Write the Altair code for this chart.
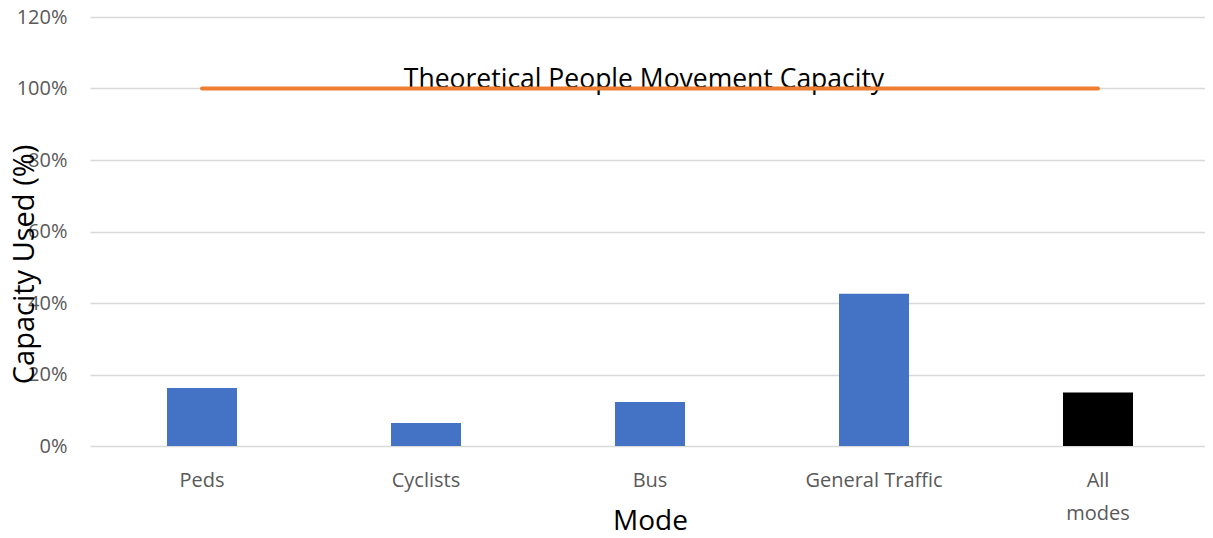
import altair as alt
import pandas as pd

modes = ["Peds", "Cyclists", "Bus", "General Traffic", "All modes"]
capacity_used = [16.2, 6.4, 12.3, 42.6, 15.0]
bar_colors = ["#4472C4", "#4472C4", "#4472C4", "#4472C4", "#000000"]
theoretical = [100, 100, 100, 100, 100]
y_ticks = [0, 20, 40, 60, 80, 100, 120]
annotation = "Theoretical People Movement Capacity"

bars_df = pd.DataFrame({"Mode": modes, "Used": capacity_used, "Color": bar_colors})
line_df = pd.DataFrame({"Mode": modes, "Cap": theoretical})
text_df = pd.DataFrame({"Mode": [modes[2]], "Cap": [theoretical[2]], "Label": [annotation]})

x_scale = alt.Scale(domain=modes, paddingInner=0, paddingOuter=0, range=[0, 1120])
y_scale = alt.Scale(domain=[0, 120], nice=False)

x_axis = alt.Axis(
    title="Mode", labelAngle=0, domain=False, ticks=False, labelPadding=24,
    labelFont="Open Sans", labelFontSize=20, labelColor="#595959",
    labelExpr="datum.label == 'All modes' ? ['All', 'modes'] : datum.label",
    labelLineHeight=33,
    titleFont="Open Sans", titleFontSize=28, titleFontWeight="normal", titleColor="#000000",
    titleY=83, titleBaseline="alphabetic", titleX=560, titleAlign="center",
    grid=False,
)
y_axis = alt.Axis(
    title="Capacity Used (%)", values=y_ticks, labelExpr="datum.value + '%'",
    domain=False, ticks=False, labelPadding=23,
    labelFont="Open Sans", labelFontSize=20, labelColor="#595959",
    titleFont="Open Sans", titleFontSize=29, titleFontWeight="normal", titleColor="#000000",
    titleAngle=-90, titleX=-66, titleY=247, titleBaseline="middle", titleAlign="center",
    gridColor="#d9d9d9", gridWidth=1.5,
)

bars = alt.Chart(bars_df).mark_bar(size=70).encode(
    x=alt.X("Mode:N", scale=x_scale, axis=x_axis, sort=modes),
    y=alt.Y("Used:Q", scale=y_scale, axis=y_axis),
    color=alt.Color("Color:N", scale=None, legend=None),
)

line = alt.Chart(line_df).mark_line(color="#ED7D31", strokeWidth=4, strokeCap="round").encode(
    x=alt.X("Mode:N", scale=x_scale, sort=modes),
    y=alt.Y("Cap:Q", scale=y_scale),
)

text = alt.Chart(text_df).mark_text(
    font="Open Sans", fontSize=26.5, color="#000000", baseline="alphabetic", align="center", dy=-1, dx=-6
).encode(
    x=alt.X("Mode:N", scale=x_scale, sort=modes),
    y=alt.Y("Cap:Q", scale=y_scale),
    text="Label:N",
)

chart = alt.layer(bars, text, line).properties(
    width=1115, height=429,
    autosize=alt.AutoSizeParams(type="none"),
    padding={"left": 82, "top": 9, "right": 0, "bottom": 84},
).configure_view(stroke=None)

chart.save("out.html", embed_options={"renderer": "svg", "actions": False})
